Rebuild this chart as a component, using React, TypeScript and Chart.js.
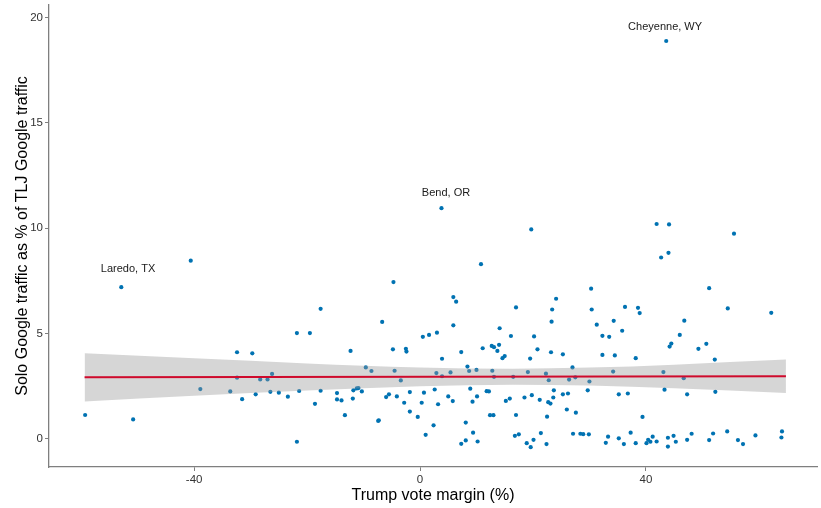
import React, { useEffect, useRef } from "react";
import { Chart, registerables } from "chart.js";

Chart.register(...registerables);

// Trump vote margin (%) for each city
const marginX = [
  -59.3, -50.8, -52.9, -40.6,
  -21.8, -32.4, -29.7, -38.9, -32.4, -33.6, -31.5, -29.1, -28.3, -27.0, -26.2, -26.5, -25.0, -23.4, -21.4, -21.8,
  -17.6, -19.5, -4.7, -6.7, -12.3, -4.8, -2.5, -2.4, 0.5, 1.6, -9.6, -8.6, -4.5, -3.4, -17.6, -18.6, -14.7, -14.7,
  -13.9, -13.3, -11.8, -11.2, -10.9, -10.3, -11.9, -7.4, -7.3, -6.0, -5.5, -4.1, -2.8, -1.8, -1.8, -0.4, 0.3, 0.7,
  2.6, 2.4, 1.0,
  3.0, 3.2, 2.9, 3.8, 3.9, 3.9, 5.0, 5.4, 5.8, 5.9, 6.4, 5.9, 7.3, 7.3, 8.1, 8.1, 8.4, 8.7, 8.9, 9.3, 9.4, 10.0,
  10.1, 10.2, 10.8, 11.1, 11.8, 12.2, 12.4, 13.0, 12.7, 13.1, 12.8, 13.1, 13.7, 14.0, 14.1, 14.6, 15.0, 15.2, 15.9,
  16.1, 16.5, 16.8, 17.5, 17.0, 17.0, 18.5, 18.9, 19.6, 19.1, 19.5, 19.7, 20.1, 20.2, 20.8, 21.2, 19.8,
  24.1, 23.4, 23.3, 23.2, 25.3, 22.3, 22.8, 23.7, 22.7, 23.1, 23.6, 25.3, 22.5, 21.4, 22.4,
  41.9, 44.1, 42.7, 44.0, 30.3, 30.4, 36.3, 38.6, 38.9, 31.3, 34.3, 35.8, 32.3, 33.5, 46.8, 46.0, 44.2, 44.5,
  32.3, 34.5, 38.2, 27.0, 26.4, 27.5, 30.0, 34.2, 43.1, 46.7, 26.2, 29.7, 35.2, 36.8, 43.3, 47.3, 26.0, 27.6,
  39.4, 27.1, 28.4, 28.9, 29.9, 33.3, 32.9, 35.2, 36.1, 37.3, 38.2, 40.1, 40.4, 40.8, 41.2, 41.9, 43.9, 43.9,
  44.9, 45.3, 47.3, 48.1,
  55.6, 51.2, 54.5, 62.2, 50.7, 49.3, 52.2, 52.3, 51.2, 51.9, 54.4, 56.3, 57.2, 59.4, 64.1, 64.0,
  43.6,
];

// Solo Google traffic as % of TLJ Google traffic
const trafficY = [
  1.13, 0.92, 7.2, 8.46,
  5.02, 4.11, 4.06, 2.36, 2.9, 2.25, 1.88, 2.11, 2.82, 2.82, 3.08, 2.23, 2.19, 2.0, 2.27, -0.14,
  6.17, 5.02, 7.44, 5.55, 4.17, 4.25, 4.27, 4.14, 4.84, 4.93, 3.39, 3.22, 3.23, 2.77, 2.28, 1.66, 2.17, 1.87,
  1.82, 1.12, 2.3, 2.39, 2.41, 2.25, 1.91, 0.85, 0.88, 1.98, 2.11, 2.01, 1.71, 2.22, 1.29, 1.04, 1.71, 2.19,
  2.34, 0.64, 0.19,
  5.04, 1.64, 3.12, 10.95, 3.8, 2.97, 2.01, 3.15, 1.79, 6.73, 6.51, 5.39, 4.12, -0.24, -0.08, 0.77, 3.43, 3.22,
  2.38, 1.76, 0.29, 3.27,
  2.01, -0.13, 8.29, 4.3, 2.26, 2.25, 1.12, 1.12, 4.41, 4.35, 3.23, 2.94, 4.17, 4.46, 5.25, 3.83, 3.93, 1.8, 1.91,
  4.88, 2.94, 0.14, 0.21, 6.24, 1.13, 1.96, -0.21, -0.4, 3.17, 3.81, 9.94, -0.05, 4.86, 4.25, 1.85, 2.07,
  6.65, 6.14, 5.56, 4.11, 4.01, 3.09, 2.78, 2.3, 1.74, 1.67, 1.96, 2.11, 1.05, 0.27, -0.25,
  10.2, 10.18, 8.61, 8.83, 7.13, 6.14, 6.26, 6.22, 5.97, 5.42, 5.6, 5.13, 4.89, 4.84, 5.61, 4.93, 4.38, 4.52,
  3.98, 3.96, 3.83, 3.39, 2.81, 2.92, 2.72, 3.19, 3.17, 2.88, 2.15, 2.3, 2.11, 2.15, 2.33, 2.11, 1.39, 1.24,
  1.04, 0.24, 0.24, 0.22, 0.21, 0.1, -0.19, 0.02, -0.25, 0.29, -0.21, -0.21, -0.05, -0.14, 0.1, -0.13, 0.05, -0.37,
  0.14, -0.14, -0.05, 0.24,
  9.74, 7.15, 6.19, 5.98, 4.51, 4.27, 3.76, 2.23, -0.06, 0.25, 0.35, -0.06, -0.25, 0.16, 0.35, 0.06,
  18.89,
];

// City annotations
const labelNames = ["Laredo, TX", "Bend, OR", "Cheyenne, WY"];
const labelX = [-51.7, 4.6, 43.4];
const labelY = [8.08, 11.66, 19.57];

// Linear fit and its confidence band
const fitX = [-59.4, -40, -20, 0, 16.4, 30, 45, 64.8];
const fitUpper = [4.06, 3.82, 3.58, 3.39, 3.33, 3.38, 3.52, 3.76];
const fitLower = [1.77, 2.04, 2.29, 2.49, 2.57, 2.53, 2.4, 2.18];
const fitLineX = [-59.4, 64.8];
const fitLineY = [2.92, 2.97];

// Axes
const xTicks = [-40, 0, 40];
const yTicks = [0, 5, 10, 15, 20];
const xMin = -65.7;
const xMax = 70.3;
const yMin = -1.34;
const yMax = 20.6;

const FONT = "'Liberation Sans', Arial, Helvetica, sans-serif";
const AXIS_GREY = "#7f7f7f";

const labelPlugin = {
  id: "cityLabels",
  afterDatasetsDraw(chart: any) {
    const { ctx, scales } = chart;
    const xs = scales.x;
    const ys = scales.y;
    ctx.save();
    ctx.font = `11px ${FONT}`;
    ctx.fillStyle = "#1a1a1a";
    ctx.textAlign = "center";
    ctx.textBaseline = "middle";
    labelNames.forEach((t, i) => {
      ctx.fillText(t, xs.getPixelForValue(labelX[i]), ys.getPixelForValue(labelY[i]));
    });
    ctx.restore();
  },
};

export default function App() {
  const ref = useRef<HTMLCanvasElement | null>(null);

  useEffect(() => {
    if (!ref.current) return;
    const points = marginX.map((x, i) => ({ x, y: trafficY[i] }));
    const upper = fitX.map((x, i) => ({ x, y: fitUpper[i] }));
    const lower = fitX.map((x, i) => ({ x, y: fitLower[i] }));
    const fitLine = fitLineX.map((x, i) => ({ x, y: fitLineY[i] }));

    const chart = new Chart(ref.current, {
      type: "scatter",
      data: {
        datasets: [
          {
            type: "scatter",
            data: points,
            backgroundColor: "#0072B2",
            borderWidth: 0,
            pointRadius: 2.1,
            order: 4,
          },
          {
            type: "line",
            data: upper,
            borderColor: "transparent",
            borderWidth: 0,
            pointRadius: 0,
            fill: "+1",
            backgroundColor: "rgba(153,153,153,0.4)",
            cubicInterpolationMode: "monotone",
            order: 3,
          },
          {
            type: "line",
            data: lower,
            borderColor: "transparent",
            borderWidth: 0,
            pointRadius: 0,
            fill: false,
            cubicInterpolationMode: "monotone",
            order: 2,
          },
          {
            type: "line",
            data: fitLine,
            borderColor: "#CF0A2C",
            borderWidth: 2,
            pointRadius: 0,
            fill: false,
            order: 1,
          },
        ],
      } as any,
      options: {
        animation: false,
        responsive: false,
        devicePixelRatio: 1,
        layout: { padding: { top: 5, right: 4, left: 0, bottom: 0 } },
        plugins: {
          legend: { display: false },
          tooltip: { enabled: false },
        },
        scales: {
          x: {
            type: "linear",
            position: "bottom",
            min: xMin,
            max: xMax,
            border: { display: true, color: AXIS_GREY, width: 1.3 },
            grid: {
              display: true,
              drawOnChartArea: false,
              drawTicks: true,
              tickLength: 4,
              color: AXIS_GREY,
            },
            ticks: {
              font: { family: FONT, size: 11.5 },
              color: "#333333",
              padding: 2,
              maxRotation: 0,
            },
            title: {
              display: true,
              text: "Trump vote margin (%)",
              color: "#000000",
              font: { family: FONT, size: 16 },
              padding: { top: 0, bottom: 2.4 },
            },
            afterBuildTicks: (s: any) => {
              s.ticks = xTicks.map((v) => ({ value: v }));
            },
            afterFit: (s: any) => {
              s.height = 41;
              s.paddingLeft = 0;
              s.paddingRight = 0;
            },
          },
          y: {
            type: "linear",
            position: "left",
            min: yMin,
            max: yMax,
            border: { display: true, color: AXIS_GREY, width: 1.3 },
            grid: {
              display: true,
              drawOnChartArea: false,
              drawTicks: true,
              tickLength: 4,
              color: AXIS_GREY,
            },
            ticks: {
              font: { family: FONT, size: 11.5 },
              color: "#333333",
              padding: 2,
            },
            title: {
              display: true,
              text: "Solo Google traffic as % of TLJ Google traffic",
              color: "#000000",
              font: { family: FONT, size: 16 },
              padding: { top: 12.5, bottom: 0 },
            },
            afterBuildTicks: (s: any) => {
              s.ticks = yTicks.map((v) => ({ value: v }));
            },
            afterFit: (s: any) => {
              s.width = 49;
              s.paddingTop = 0;
              s.paddingBottom = 0;
            },
          },
        },
      } as any,
      plugins: [labelPlugin],
    });
    return () => chart.destroy();
  }, []);

  return (
    <div style={{ position: "fixed", left: 0, top: 0, width: 821, height: 508, background: "#ffffff" }}>
      <canvas ref={ref} width={821} height={508} style={{ width: 821, height: 508, display: "block" }} />
    </div>
  );
}
